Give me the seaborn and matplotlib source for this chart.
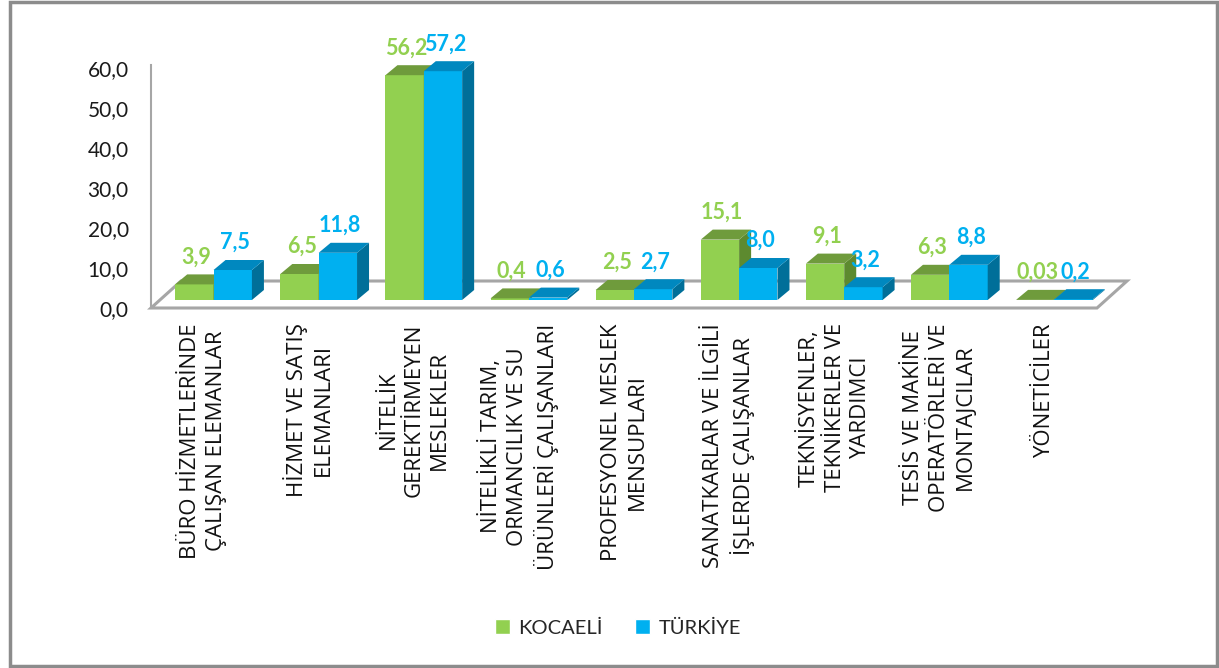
import seaborn as sns
import pandas as pd
import matplotlib.pyplot as plt
from matplotlib.patches import Polygon, Patch, Rectangle
from matplotlib.transforms import offset_copy

# Data
categories = [
    "BÜRO HİZMETLERİNDE\nÇALIŞAN ELEMANLAR",
    "HİZMET VE SATIŞ\nELEMANLARI",
    "NİTELİK\nGEREKTİRMEYEN\nMESLEKLER",
    "NİTELİKLİ TARIM,\nORMANCILIK VE SU\nÜRÜNLERİ ÇALIŞANLARI",
    "PROFESYONEL MESLEK\nMENSUPLARI",
    "SANATKARLAR VE İLGİLİ\nİŞLERDE ÇALIŞANLAR",
    "TEKNİSYENLER,\nTEKNİKERLER VE\nYARDIMCI",
    "TESİS VE MAKİNE\nOPERATÖRLERİ VE\nMONTAJCILAR",
    "YÖNETİCİLER",
]
kocaeli = [3.9, 6.5, 56.2, 0.4, 2.5, 15.1, 9.1, 6.3, 0.03]
turkiye = [7.5, 11.8, 57.2, 0.6, 2.7, 8.0, 3.2, 8.8, 0.2]
series = ["KOCAELİ", "TÜRKİYE"]
y_ticks = [0, 10, 20, 30, 40, 50, 60]

front = ["#92D050", "#00B0F0"]
top = ["#6F9B3C", "#0088BF"]
side = ["#5D8A2F", "#006F99"]

df = pd.DataFrame({
    "Meslek": categories * 2,
    "Oran": kocaeli + turkiye,
    "Bölge": [series[0]] * len(kocaeli) + [series[1]] * len(turkiye),
})

sns.set_theme(style="white")
plt.rcParams["font.family"] = ["Lato", "DejaVu Sans"]

W, H = 1219, 668
fig = plt.figure(figsize=(W / 100, H / 100), dpi=100)
ax = fig.add_axes([151 / W, (H - 308) / H, (1097 - 151) / W, (308 - 65) / H])

sns.barplot(data=df, x="Meslek", y="Oran", hue="Bölge", order=categories,
            hue_order=series, palette=front, saturation=1, width=0.73,
            linewidth=0, legend=False, ax=ax)

ax.set_xlim(-0.5, 8.5)
ax.set_ylim(0, 60.75)

# floor of the 3D box
fdx, fdy = 30 / 105.1, 27 / 4
floor = Polygon([(-0.5, 0), (8.5, 0), (8.5 + fdx, fdy), (-0.5 + fdx, fdy)],
                closed=True, facecolor="white", edgecolor="#A6A6A6",
                lw=2.2, zorder=0.5, clip_on=False)
ax.add_patch(floor)

# bars sit a little behind the front edge
off = offset_copy(ax.transData, fig=fig, x=10, y=8, units="dots")
dx, dy = 12 / 105.1, 10 / 4

for i, cont in enumerate(ax.containers):
    for bar, val in zip(cont.patches, [kocaeli, turkiye][i]):
        x0, w, h = bar.get_x(), bar.get_width(), bar.get_height()
        bar.set_transform(off)
        bar.set_clip_on(False)
        bar.set_zorder(2 + i)
        ax.add_patch(Polygon([(x0 + w, 0), (x0 + w + dx, dy), (x0 + w + dx, h + dy), (x0 + w, h)],
                             closed=True, facecolor=side[i], lw=0,
                             transform=off, clip_on=False, zorder=2 + i))
        ax.add_patch(Polygon([(x0, h), (x0 + w, h), (x0 + w + dx, h + dy), (x0 + dx, h + dy)],
                             closed=True, facecolor=top[i], lw=0,
                             transform=off, clip_on=False, zorder=2 + i))
        ax.annotate(str(val).replace(".", ","), xy=(x0 + w / 2 + 0.02, h + dy),
                    xycoords=off, xytext=(0, 5), textcoords="offset points",
                    ha="center", va="bottom", fontsize=15.5, fontweight="bold",
                    color=front[i], zorder=5, annotation_clip=False)

# axes styling
for s in ["top", "right", "bottom"]:
    ax.spines[s].set_visible(False)
ax.spines["left"].set_color("#A6A6A6")
ax.spines["left"].set_linewidth(1.5)

ax.set_yticks(y_ticks)
ax.set_yticklabels([f"{t:.1f}".replace(".", ",") for t in y_ticks],
                   fontsize=15, color="#1A1A1A")
ax.tick_params(axis="y", length=0, pad=16)

ax.set_xticks(range(len(categories)))
ax.set_xticklabels(categories, rotation=90, ha="center", va="top",
                   multialignment="center")
for lbl in ax.get_xticklabels():
    lbl.set_fontfamily(["Open Sans", "DejaVu Sans"])
    lbl.set_fontsize(16)
    lbl.set_linespacing(1.3)
    lbl.set_color("#111111")
ax.tick_params(axis="x", length=0, pad=11)
ax.set_xlabel("")
ax.set_ylabel("")

# legend
handles = [Patch(facecolor=front[0], label=series[0]),
           Patch(facecolor=front[1], label=series[1])]
fig.legend(handles=handles, loc="center", bbox_to_anchor=(618 / W, 1 - 628 / H),
           ncol=2, frameon=False, fontsize=14.5, handlelength=0.75,
           handleheight=0.75, handletextpad=0.4, columnspacing=1.6,
           labelcolor="#262626")

# outer border
fig.patches.append(Rectangle((10 / W, 2 / H), 1207 / W, 664 / H,
                             transform=fig.transFigure, fill=False,
                             edgecolor="#8C8C8C", lw=2.5))

fig.savefig("out.png", dpi=100, facecolor="white")
